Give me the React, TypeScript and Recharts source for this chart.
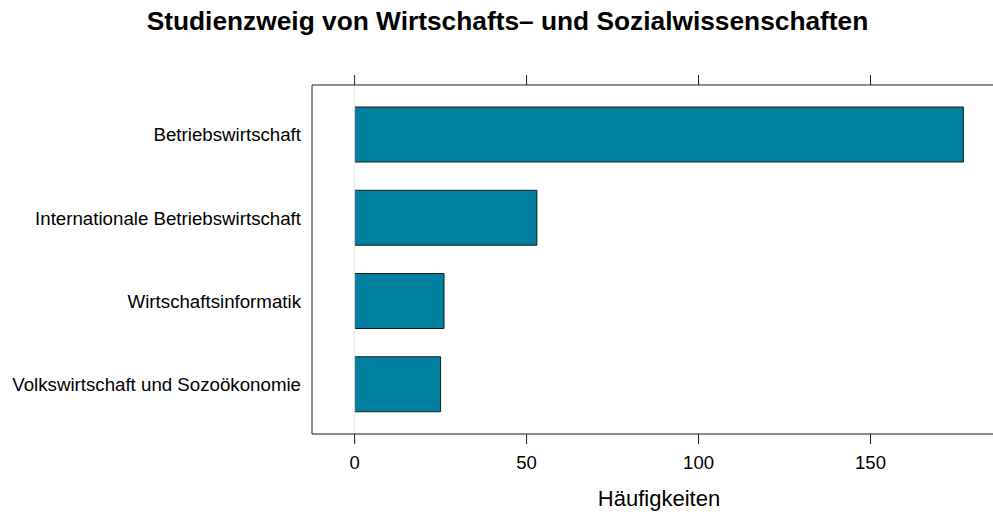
import { Bar, BarChart, ReferenceLine, XAxis, YAxis } from "recharts";

const categories = [
  "Betriebswirtschaft",
  "Internationale Betriebswirtschaft",
  "Wirtschaftsinformatik",
  "Volkswirtschaft und Sozoökonomie",
];
const counts = [177, 53, 26, 25];
const xTicks = [0, 50, 100, 150];

const FONT = '"Liberation Sans", Arial, Helvetica, sans-serif';
const INK = "#1a1a1a";

const data = categories.map((name, i) => ({ name, value: counts[i] }));

export default function App() {
  return (
    <div
      style={{
        position: "absolute",
        left: 0,
        top: 0,
        width: 993,
        height: 515,
        overflow: "hidden",
        background: "#fff",
        fontFamily: FONT,
      }}
    >
      <div
        style={{
          position: "absolute",
          left: 0,
          top: 8,
          width: 1015,
          textAlign: "center",
          fontSize: 26.3,
          lineHeight: 1,
          fontWeight: "bold",
          color: "#000",
        }}
      >
        Studienzweig von Wirtschafts– und Sozialwissenschaften
      </div>
      <BarChart
        width={1015}
        height={515}
        data={data}
        layout="vertical"
        margin={{ top: 0, right: 9, bottom: 0, left: 0 }}
        barSize={55}
      >
        <XAxis
          xAxisId="top"
          orientation="top"
          type="number"
          domain={[-12.39, 189.39]}
          allowDataOverflow
          ticks={xTicks}
          height={85}
          tickSize={10}
          tick={() => <g />}
          stroke={INK}
          axisLine={{ stroke: INK }}
          tickLine={{ stroke: INK }}
        />
        <XAxis
          xAxisId="bottom"
          orientation="bottom"
          type="number"
          domain={[-12.39, 189.39]}
          allowDataOverflow
          ticks={xTicks}
          height={81}
          tickSize={10}
          tickMargin={12}
          stroke={INK}
          axisLine={{ stroke: INK }}
          tickLine={{ stroke: INK }}
          tick={{ fill: "#000", fontSize: 18.5, fontFamily: FONT }}
          label={{
            value: "Häufigkeiten",
            position: "insideBottom",
            offset: 9,
            fill: "#000",
            fontSize: 22,
            fontFamily: FONT,
          }}
        />
        <YAxis
          type="category"
          dataKey="name"
          width={312}
          padding={{ top: 8, bottom: 8 }}
          tickLine={false}
          tickMargin={5}
          axisLine={{ stroke: INK }}
          tick={{ fill: "#000", fontSize: 18.7, fontFamily: FONT }}
        />
        <ReferenceLine xAxisId="bottom" x={0} stroke="#e6e6e6" />
        <Bar
          xAxisId="bottom"
          dataKey="value"
          fill="#00809F"
          stroke={INK}
          strokeWidth={1}
          isAnimationActive={false}
        />
      </BarChart>
    </div>
  );
}
